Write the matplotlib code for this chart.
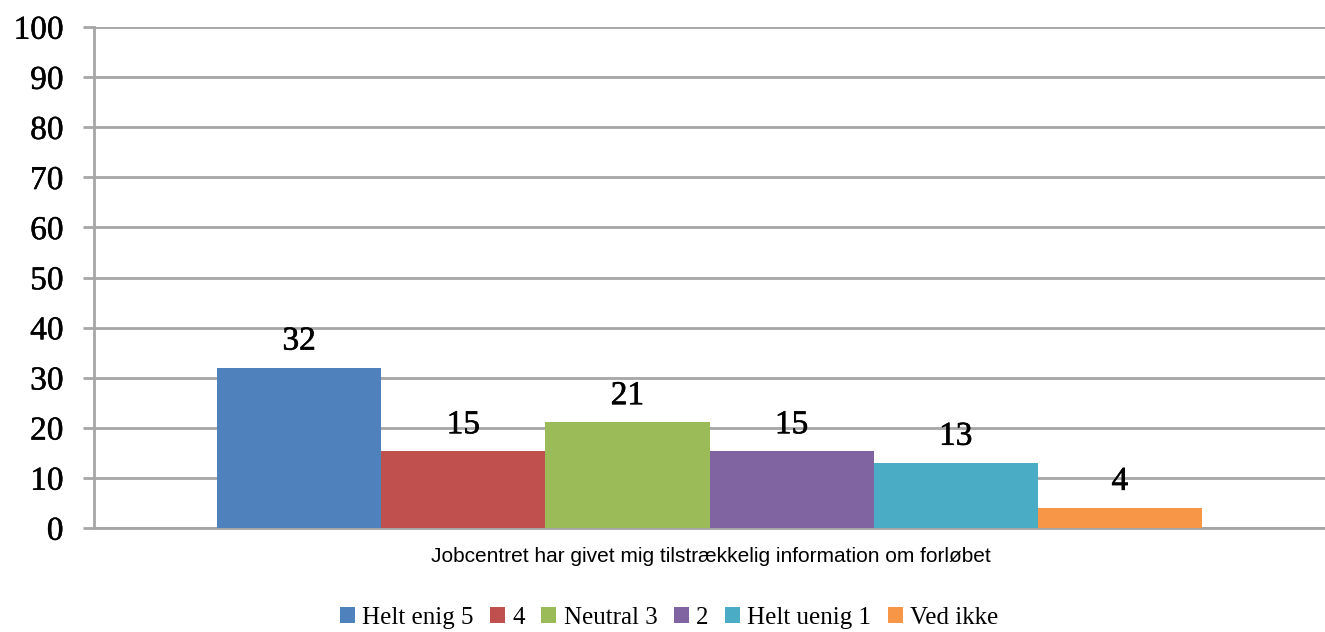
import matplotlib
matplotlib.use("Agg")
import matplotlib.pyplot as plt
import matplotlib.patheffects as pe

category = "Jobcentret har givet mig tilstrækkelig information om forløbet"
series = ["Helt enig 5", "4", "Neutral 3", "2", "Helt uenig 1", "Ved ikke"]
values = [32.0, 15.3, 21.1, 15.3, 13.0, 4.0]
labels = ["32", "15", "21", "15", "13", "4"]
colors = ["#4f81bd", "#c0504d", "#9bbb59", "#8064a2", "#4bacc6", "#f79646"]
yticks = [0, 10, 20, 30, 40, 50, 60, 70, 80, 90, 100]

fig = plt.figure(figsize=(13.25, 6.32), dpi=100)
ax = fig.add_axes([94/1325, 1 - 528/632, (1325 - 94)/1325, (528 - 27)/632])

n = len(series)
group_w = 0.8
bw = group_w / n
for i, (s, v, lab, c) in enumerate(zip(series, values, labels, colors)):
    x = -group_w/2 + bw*(i + 0.5)
    ax.bar(x, v, width=bw, color=c, label=s, zorder=3, linewidth=0)
    t = ax.annotate(lab, (x, v), xytext=(0, 8), textcoords="offset points",
                    ha="center", va="bottom", fontsize=24, fontfamily="Liberation Serif",
                    color="black", zorder=4)
    t.set_path_effects([pe.withStroke(linewidth=0.45, foreground="black")])

ax.set_xlim(-0.5, 0.5)
ax.set_ylim(0, 100)
ax.set_yticks(yticks)
ax.set_yticklabels([str(t) for t in yticks], fontfamily="Liberation Serif", fontsize=24)
for tl in ax.get_yticklabels():
    tl.set_path_effects([pe.withStroke(linewidth=0.35, foreground="black")])
ax.yaxis.grid(True, color="#a6a6a6", linewidth=2, zorder=0)
ax.set_xticks([])
ax.tick_params(axis="y", length=8, width=2, color="#a6a6a6", pad=14)
for sp in ["top", "right"]:
    ax.spines[sp].set_visible(False)
ax.spines["left"].set_color("#a6a6a6")
ax.spines["left"].set_linewidth(2)
ax.spines["bottom"].set_color("#a6a6a6")
ax.spines["bottom"].set_linewidth(2)

fig.text(711/1325, 1 - 557/632, category, ha="center", va="center",
         fontfamily="Liberation Sans", fontsize=15)

handles, hl = ax.get_legend_handles_labels()
fig.legend(handles, hl, loc="center", bbox_to_anchor=(669/1325, 1 - 618/632), ncol=6,
           frameon=False, prop={"family": "Liberation Serif", "size": 18},
           handlelength=0.6, handleheight=0.6, handletextpad=0.3, columnspacing=0.65)

fig.savefig("out.png", dpi=100)
